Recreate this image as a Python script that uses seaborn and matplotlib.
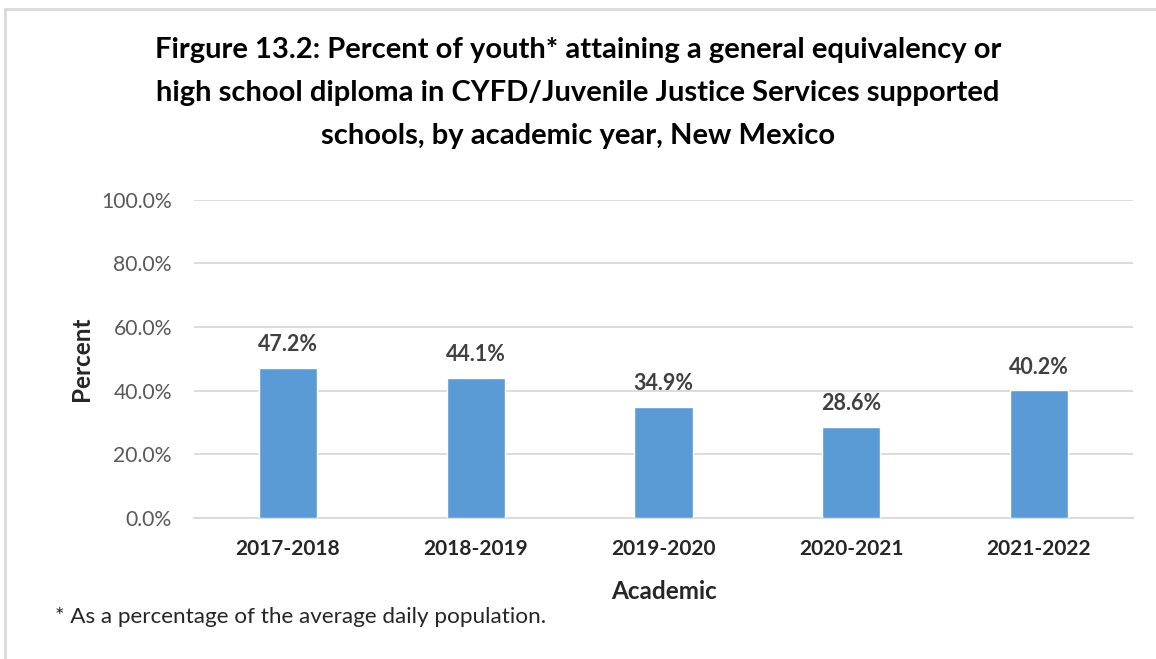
import matplotlib
matplotlib.use("Agg")
import matplotlib.pyplot as plt
from matplotlib.lines import Line2D
from matplotlib.ticker import PercentFormatter
import seaborn as sns
import pandas as pd

# Academic years and graduation rates (percent of average daily population)
years = ["2017-2018", "2018-2019", "2019-2020", "2020-2021", "2021-2022"]
percents = [47.2, 44.1, 34.9, 28.6, 40.2]
y_ticks = [0, 20, 40, 60, 80, 100]

title = ("Firgure 13.2: Percent of youth* attaining a general equivalency or\n"
         "high school diploma in CYFD/Juvenile Justice Services supported\n"
         "schools, by academic year, New Mexico")
footnote = "* As a percentage of the average daily population."

sns.set_theme(style="white")
plt.rcParams["font.family"] = ["Lato", "DejaVu Sans"]

df = pd.DataFrame({"year": years, "pct": percents})

fig = plt.figure(figsize=(11.56, 6.59), dpi=100)
ax = fig.add_axes([0.168, 0.214, 0.812, 0.483])

sns.barplot(data=df, x="year", y="pct", color="#5B9BD5", saturation=1,
            width=0.31, ax=ax, zorder=3)

ax.set_ylim(0, 100)
ax.set_xlim(-0.5, len(years) - 0.5)
ax.set_yticks(y_ticks)
ax.yaxis.set_major_formatter(PercentFormatter(decimals=1))
ax.grid(axis="y", color="#D9D9D9", linewidth=1.3, zorder=0)
for s in ["top", "right", "left"]:
    ax.spines[s].set_visible(False)
ax.spines["bottom"].set_color("#D9D9D9")
ax.spines["bottom"].set_linewidth(1.3)

ax.tick_params(axis="y", labelsize=15.2, labelcolor="#595959", length=0, pad=16)
ax.tick_params(axis="x", labelsize=15, labelcolor="#262626", length=0, pad=15)
for lbl in ax.get_xticklabels():
    lbl.set_fontweight("bold")

ax.set_xlabel("Academic", fontsize=17.5, fontweight="bold", color="#262626",
              labelpad=15)
ax.set_ylabel("Percent", fontsize=17.5, fontweight="bold", color="#262626",
              labelpad=6)

for container in ax.containers:
    ax.bar_label(container, labels=[f"{v:.1f}%" for v in percents],
                 padding=9, fontsize=15.5, fontweight="bold", color="#404040")

fig.text(0.5, 0.944, title, ha="center", va="top", fontsize=21,
         fontweight="bold", color="#000000", linespacing=1.8)
fig.text(0.048, 0.064, footnote, ha="left", va="center", fontsize=16.2,
         color="#262626")

# Light frame around the chart area
fig.add_artist(Line2D([5 / 1156, 1.0], [1 - 9 / 659, 1 - 9 / 659],
                      transform=fig.transFigure, color="#D9D9D9", linewidth=2))
fig.add_artist(Line2D([5 / 1156, 5 / 1156], [0, 1 - 9 / 659],
                      transform=fig.transFigure, color="#D9D9D9", linewidth=2))

fig.savefig("out.png", dpi=100, facecolor="white")
